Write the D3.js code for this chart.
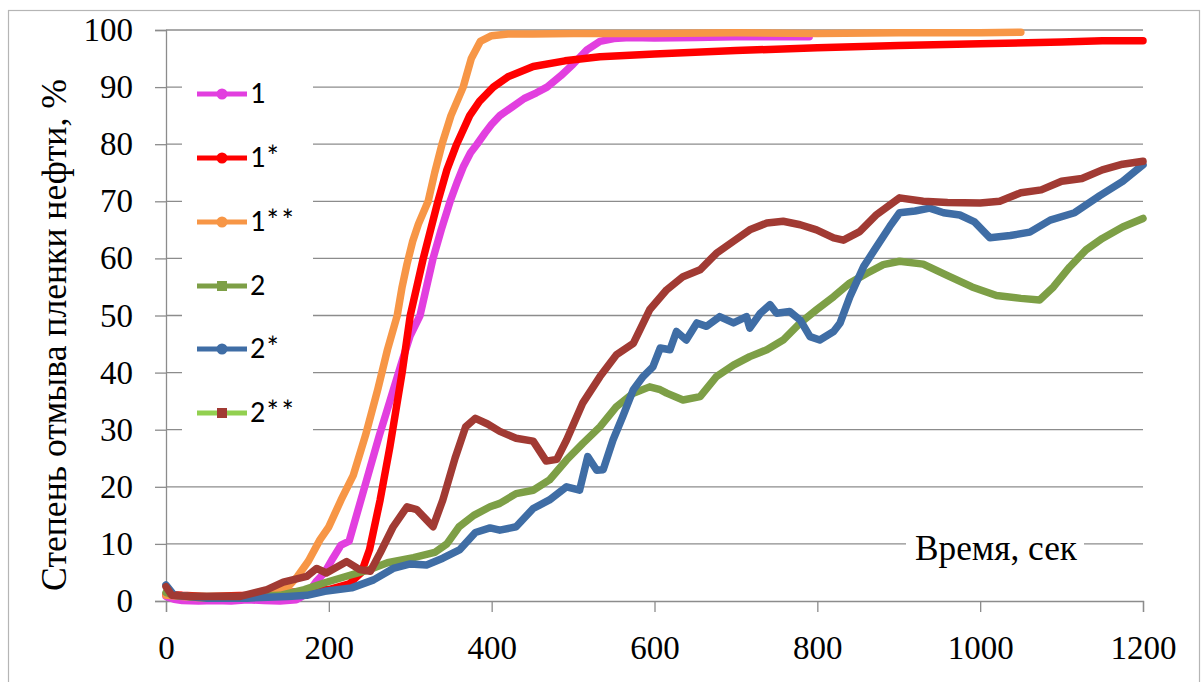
<!DOCTYPE html>
<html><head><meta charset="utf-8">
<script src="https://cdn.jsdelivr.net/npm/d3@7"></script>
<style>
html,body{margin:0;padding:0;background:#fff;}
svg{display:block;}
</style></head>
<body>
<svg id="chart" width="1203" height="682"></svg>
<script>
// ---- data ----
const seriesNames = ["1", "1*", "1**", "2", "2*", "2**"];
const xTicks = [0, 200, 400, 600, 800, 1000, 1200];
const yTicks = [0, 10, 20, 30, 40, 50, 60, 70, 80, 90, 100];

const t1 = [0,10,20,40,60,80,100,120,140,160,175,185,195,205,215,225,238,250,262,275,290,300,312,320,328,338,349,358,365,374,382,392,400,410,425,440,455,468,485,500,517,533,550,570,600,650,700,750,790];
const v1 = [0.8,0.3,0.1,0,0.1,0,0.2,0.1,0,0.2,1.5,3.5,5,7.5,9.8,10.5,17,23,29,35,42,46.5,50,55,60,65,70,73.5,76,78.5,80,82,83.5,85,86.5,88,89,90,92,94,96.5,98,98.5,98.7,98.6,98.7,98.8,98.8,98.8];

const t2 = [0,20,50,100,150,200,225,240,250,263,275,290,300,316,334,345,357,373,385,402,420,451,490,533,600,700,800,900,1000,1100,1150,1200];
const v2 = [1.2,1,0.8,1,1.5,2,3,5,9,17.7,27,40,50,60,70,75.5,80,85,87.5,90,91.8,93.6,94.6,95.3,95.8,96.4,96.9,97.3,97.6,97.9,98.1,98.1];

const t3 = [0,20,50,100,130,150,161,175,189,200,215,230,245,260,272,284,290,296,303,310,322,330,339,350,365,375,386,400,420,450,500,600,700,800,900,1000,1050];
const v3 = [1,0.8,0.5,0.8,1.5,2.5,4.2,7,10.7,13,17.7,22,29,37,44,50,55,59,63,66,70,75,80,85,90,95,98,99,99.3,99.3,99.4,99.4,99.5,99.4,99.5,99.5,99.6];

const t4 = [0,10,30,60,100,140,170,195,228,250,272,304,330,345,360,378,398,410,430,451,471,492,512,533,553,574,594,607,615,635,656,676,697,717,738,758,779,799,820,840,861,881,901,930,960,990,1020,1050,1073,1090,1110,1130,1150,1175,1200];
const v4 = [1.5,1,0.8,0.8,0.8,1,2,3.2,4.6,5.5,6.7,7.6,8.5,10,13,15,16.5,17.1,18.8,19.4,21.2,24.7,27.6,30.5,34,36.4,37.5,37,36.4,35.2,35.8,39.3,41.3,42.8,44,45.7,48.7,51,53.3,55.7,57.4,58.9,59.5,59,57,55,53.5,53,52.7,55,58.5,61.5,63.5,65.5,67];

const t5 = [0,10,50,100,150,173,195,228,255,279,300,320,340,361,380,398,410,430,451,471,492,508,518,529,537,549,561,574,586,598,607,619,627,639,652,664,680,697,713,717,730,742,750,766,779,791,803,820,828,840,857,873,889,901,920,938,955,975,993,1012,1037,1061,1086,1116,1147,1175,1200];
const v5 = [2.8,1,0.5,0.5,0.8,1,1.7,2.3,3.7,5.7,6.5,6.3,7.5,9,12,12.8,12.4,13,16.2,17.7,20,19.4,25.3,22.9,23,28.2,32.3,37,39.3,41,44.3,44,47.2,45.7,48.7,48.1,49.8,48.7,49.8,47.8,50.4,51.9,50.4,50.7,49.2,46.3,45.7,47.2,48.7,53.3,58.6,62.1,65.6,68,68.3,68.8,68,67.6,66.4,63.6,64,64.6,66.7,68,71,73.5,76.4];

const t6 = [0,7,30,60,91,124,144,173,185,197,222,238,251,263,279,296,308,320,328,340,355,368,380,395,410,430,451,467,480,492,512,533,553,574,594,615,635,656,676,697,717,738,758,779,799,820,832,852,873,901,930,960,1000,1024,1050,1075,1100,1125,1150,1175,1200];
const v6 = [2.5,1,0.8,0.8,0.8,2,3.3,4.3,5.7,4.9,6.9,5.5,5.2,8.4,13,16.5,16,14.2,13,17.7,25,30.5,32,31,29.7,28.5,28,24.5,24.8,28.2,34.7,39.3,43.1,45.1,51,54.5,56.8,58,60.9,63,65,66.2,66.5,65.9,65,63.6,63.2,64.7,67.7,70.6,70,69.8,69.7,70,71.5,72,73.5,74,75.5,76.5,77];

// ---- styling ----
const SERIF = '"Liberation Serif"';
const SANS = '"Carlito"';
const lineColors = ["#e23fdf", "#ff0000", "#f79646", "#7d9f46", "#3f6da5", "#a13a33"];
const legendLineColors = ["#e23fdf", "#ff0000", "#f79646", "#7d9f46", "#3f6da5", "#92d050"];
const legendMarkerColors = ["#e23fdf", "#ff0000", "#f79646", "#7d9f46", "#3f6da5", "#a13a33"];
const markerShapes = ["circle", "circle", "circle", "square", "circle", "square"];

const times = [t1, t2, t3, t4, t5, t6];
const vals = [v1, v2, v3, v4, v5, v6];

const svg = d3.select("#chart");
const x = d3.scaleLinear().domain([0, 1200]).range([166, 1143]);
const y = d3.scaleLinear().domain([0, 100]).range([601, 30]);

svg.append("rect").attr("x", 8.5).attr("y", 10.5).attr("width", 1191).attr("height", 700)
  .attr("fill", "#fff").attr("stroke", "#b5b5b5").attr("stroke-width", 1.2);

const gridColor = "#8c8c8c";
svg.append("g").selectAll("line").data(yTicks.filter(d => d > 0)).join("line")
  .attr("x1", x(0)).attr("x2", x(1200))
  .attr("y1", d => y(d)).attr("y2", d => y(d))
  .attr("stroke", gridColor).attr("stroke-width", 1.3);

const yAxis = svg.append("g").attr("transform", `translate(${x(0)},0)`)
  .call(d3.axisLeft(y).tickValues(yTicks).tickSize(11).tickPadding(22).tickFormat(d3.format("d")));
const xAxis = svg.append("g").attr("transform", `translate(0,${y(0)})`)
  .call(d3.axisBottom(x).tickValues(xTicks).tickSize(11).tickPadding(24).tickFormat(d3.format("d")));
[yAxis, xAxis].forEach(g => {
  g.attr("font-family", null).attr("font-size", null);
  g.selectAll(".domain").attr("stroke", gridColor).attr("stroke-width", 1.3);
  g.selectAll(".tick line").attr("stroke", gridColor).attr("stroke-width", 1.3);
  g.selectAll("text").style("font-family", SERIF).style("font-size", "33px").attr("fill", "#000");
});

const line = d3.line().x(d => x(d[0])).y(d => y(d[1]));
times.forEach((ts, i) => {
  const pts = ts.map((t, j) => [t, vals[i][j]]);
  svg.append("path").datum(pts).attr("d", line)
    .attr("fill", "none").attr("stroke", lineColors[i])
    .attr("stroke-width", 7.5).attr("stroke-linejoin", "round").attr("stroke-linecap", "round");
});

function fitText(sel, target, base) {
  const len = sel.node().getComputedTextLength();
  if (len > 0) sel.style("font-size", (base * target / len).toFixed(2) + "px");
}

const yTitle = svg.append("text")
  .attr("transform", `translate(66,335) rotate(-90)`)
  .attr("text-anchor", "middle").style("font-family", SERIF).style("font-size", "36px").attr("fill", "#000")
  .text("Степень отмыва пленки нефти, %");
fitText(yTitle, 512, 36);

svg.append("rect").attr("x", 906).attr("y", 528).attr("width", 178).attr("height", 40).attr("fill", "#fff");
const xTitle = svg.append("text").attr("x", 996).attr("y", 560).attr("text-anchor", "middle")
  .style("font-family", SERIF).style("font-size", "36px").attr("fill", "#000")
  .text("Время, сек");
fitText(xTitle, 162, 36);

const lg = svg.append("g");
lg.append("rect").attr("x", 182).attr("y", 50).attr("width", 131).attr("height", 392).attr("fill", "#fff");
const legendY = [94, 158, 222, 286, 349, 413];
seriesNames.forEach((name, i) => {
  const cy = legendY[i];
  lg.append("line").attr("x1", 197).attr("x2", 247).attr("y1", cy).attr("y2", cy)
    .attr("stroke", legendLineColors[i]).attr("stroke-width", 5);
  if (markerShapes[i] === "circle") {
    lg.append("circle").attr("cx", 222).attr("cy", cy).attr("r", 5.5).attr("fill", legendMarkerColors[i]);
  } else {
    lg.append("rect").attr("x", 217).attr("y", cy - 5).attr("width", 10).attr("height", 10).attr("fill", legendMarkerColors[i]);
  }
  lg.append("text").attr("x", 250).attr("y", cy + 9)
    .style("font-family", SANS).style("font-size", "30px").attr("fill", "#000").text(name);
});
</script>
</body></html>
